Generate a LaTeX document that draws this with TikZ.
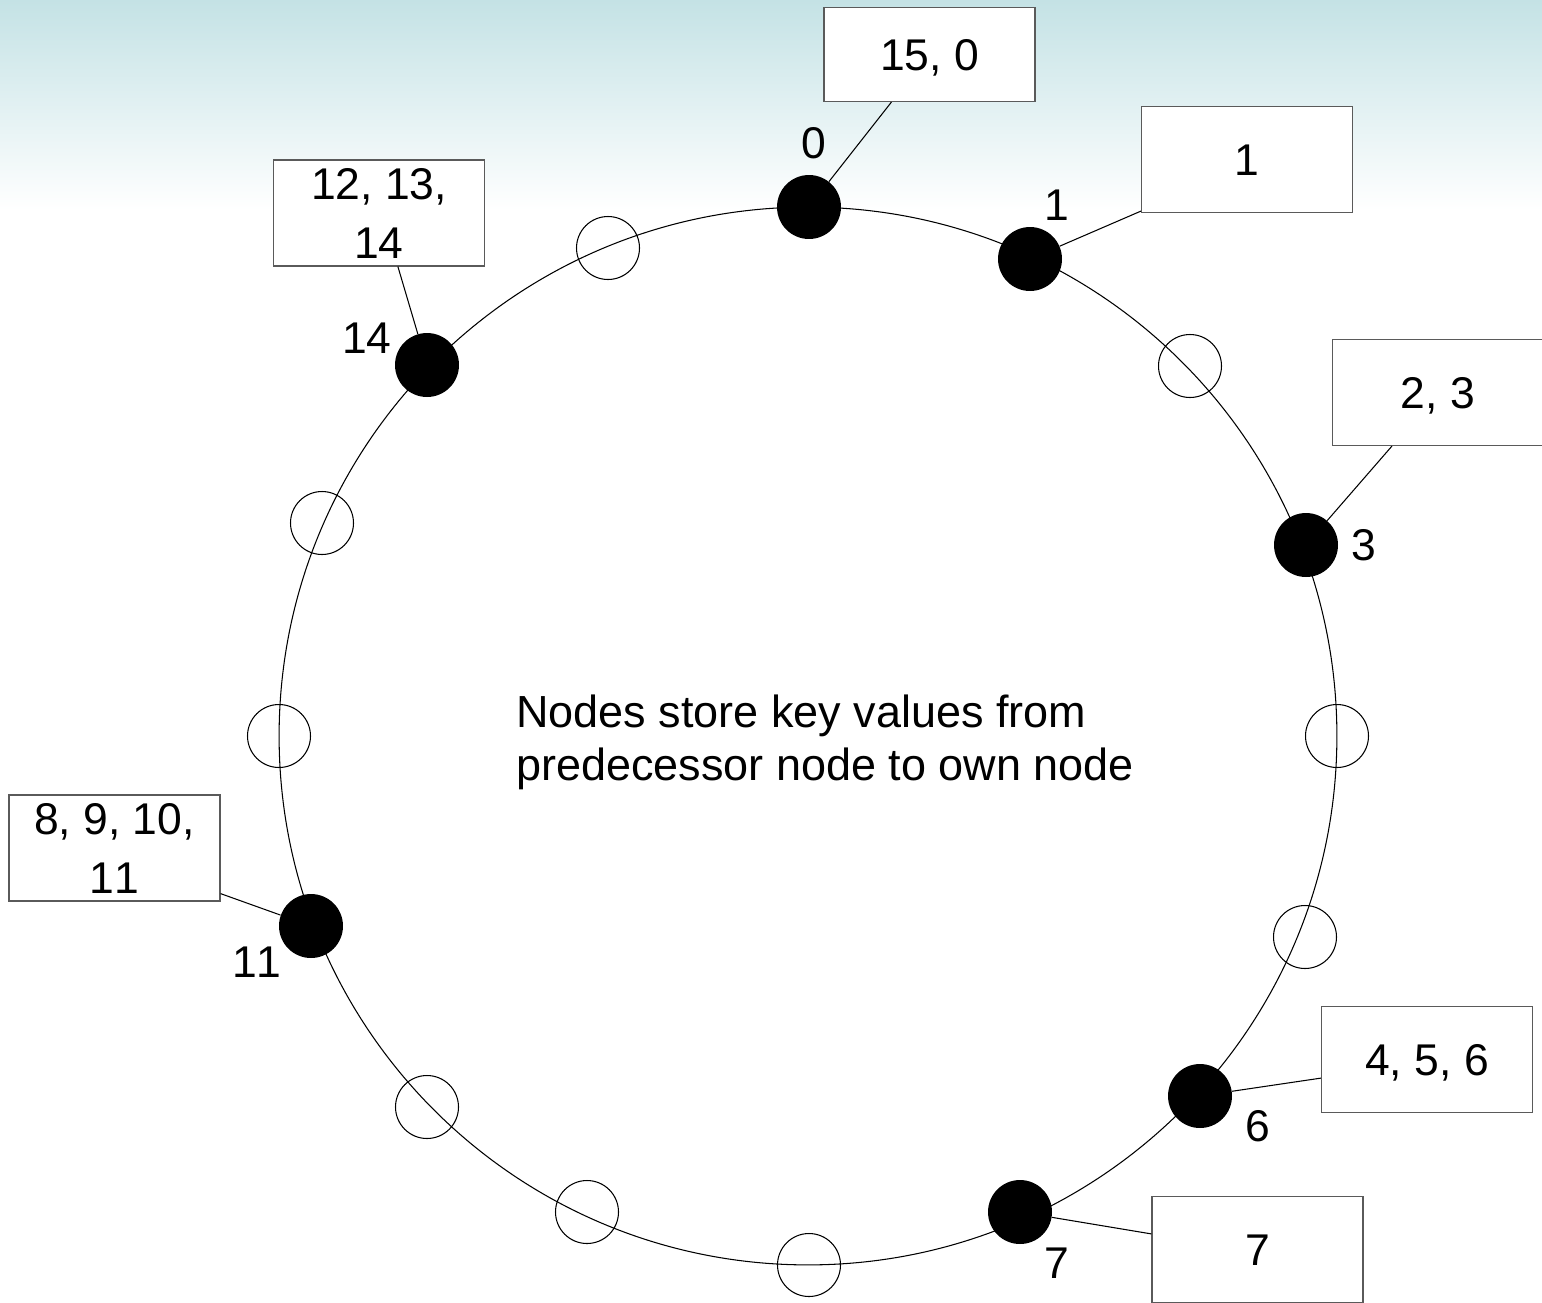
\documentclass[tikz,border=0pt]{standalone}
\usepackage{fontspec}
\setmainfont[Kerning=Off]{Liberation Sans}
\usetikzlibrary{calc}
\definecolor{skytop}{RGB}{196,226,229}
\definecolor{boxline}{RGB}{90,90,90}
\tikzset{
  big/.style={font=\fontsize{25.6pt}{30pt}\selectfont},
  ring/.style={draw=black, line width=0.6pt},
  full/.style={circle, fill=black, minimum size=1.28cm, inner sep=0pt},
  hollow/.style={circle, draw=black, line width=0.6pt, minimum size=1.26cm, inner sep=0pt},
  keybox/.style={rectangle, draw=boxline, line width=0.7pt, fill=white, minimum width=4.22cm, minimum height=2.12cm, inner sep=0pt, font=\fontsize{25.3pt}{33.5pt}\selectfont},
  one/.style={text height=18pt, text depth=0pt},
  two/.style={align=center, text height=51.5pt, text depth=0pt},
  lbl/.style={inner sep=0pt, text height=18pt, text depth=0pt, font=\fontsize{25.3pt}{30pt}\selectfont},
  conn/.style={draw=black, line width=0.6pt}
}
\begin{document}
\begin{tikzpicture}[x=0.02cm, y=-0.02cm]
\useasboundingbox (0,0) rectangle (1542,1302);
\clip (0,0) rectangle (1542,1302);
\fill[white] (0,0) rectangle (1542,1302);
\shade[top color=skytop, bottom color=white] (0,0) rectangle (1542,210);

% ring
\draw[ring] (808,736) circle (10.58cm);

% hollow positions
\node[hollow] (h15) at (608,248) {};
\node[hollow] (h2) at (1190,366) {};
\node[hollow] (h4) at (1337,736) {};
\node[hollow] (h5) at (1305,937) {};
\node[hollow] (h8) at (809,1265) {};
\node[hollow] (h9) at (587,1212) {};
\node[hollow] (h10) at (427,1107) {};
\node[hollow] (h12) at (279,736) {};
\node[hollow] (h13) at (322,523) {};

% filled nodes
\node[full] (n0) at (809,207) {};
\node[full] (n1) at (1030,259) {};
\node[full] (n3) at (1306,545) {};
\node[full] (n6) at (1200,1096) {};
\node[full] (n7) at (1020,1212) {};
\node[full] (n11) at (311,926) {};
\node[full] (n14) at (427,365) {};

% labels
\node[lbl] (l0) at (814,143) {0};
\node[lbl] (l1) at (1057,205) {1};
\node[lbl] (l3) at (1364,545) {3};
\node[lbl] (l6) at (1258,1126) {6};
\node[lbl] (l7) at (1057,1263) {7};
\node[lbl] (l11) at (257,962) {11};
\node[lbl] (l14) at (367,338) {14};

% key boxes
\node[keybox, one, minimum height=1.88cm] (b0) at (929.5,54.5) {15, 0};
\node[keybox, one] (b1) at (1247,159.5) {1};
\node[keybox, one] (b3) at (1438,392.5) {2, 3};
\node[keybox, one] (b6) at (1427,1059.5) {4, 5, 6};
\node[keybox, one] (b7) at (1257.5,1249.5) {7};
\node[keybox, two] (b11) at (114.5,848) {8, 9, 10,\\11};
\node[keybox, two] (b14) at (379,213) {12, 13,\\14};

% connectors
\draw[conn] ($(b0.south west)+(68,0)$) -- (n0);
\draw[conn] ($(b1.south west)+(0,-2)$) -- (n1);
\draw[conn] ($(b3.south west)+(60,0)$) -- (n3);
\draw[conn] ($(b6.south west)+(0,-35)$) -- (n6);
\draw[conn] ($(b7.north west)+(0,38)$) -- (n7);
\draw[conn] ($(b11.south east)+(0,-8)$) -- (n11);
\draw[conn] ($(b14.south west)+(125,0)$) -- (n14);

% center text
\node[big, anchor=base west, align=left, inner sep=0pt] (note) at (516,780)
  {Nodes store key values from\\predecessor node to own node};
\end{tikzpicture}
\end{document}
